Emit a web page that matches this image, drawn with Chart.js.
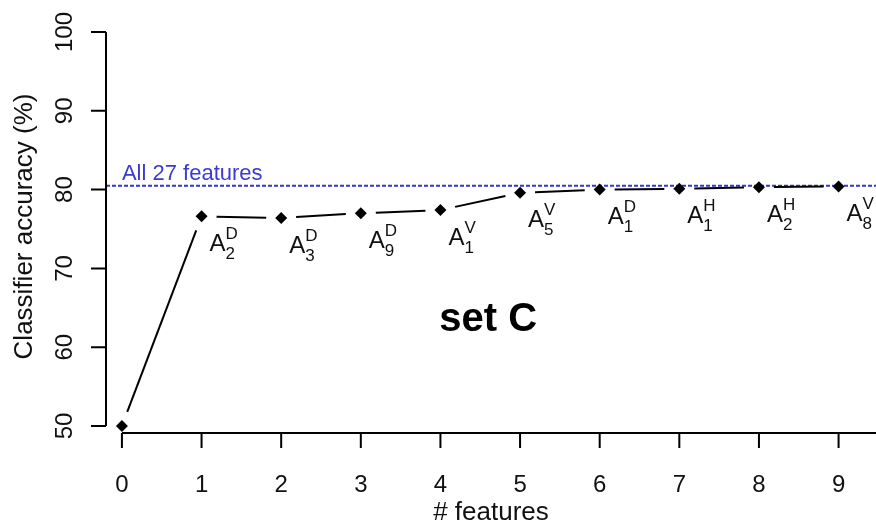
<!DOCTYPE html>
<html>
<head>
<meta charset="utf-8">
<script src="https://cdn.jsdelivr.net/npm/chart.js@4"></script>
<style>
  html, body { margin: 0; padding: 0; background: #fff; }
  #c { display: block; }
</style>
</head>
<body>
<canvas id="c" width="876" height="523"></canvas>
<script>
// ---- data ----
const numFeatures = [0, 1, 2, 3, 4, 5, 6, 7, 8, 9];
const accuracy = [50.0, 76.6, 76.4, 77.0, 77.4, 79.6, 80.0, 80.1, 80.3, 80.4];
const labelBase = ['', 'A', 'A', 'A', 'A', 'A', 'A', 'A', 'A', 'A'];
const labelSup = ['', 'D', 'D', 'D', 'V', 'V', 'D', 'H', 'H', 'V'];
const labelSub = ['', '2', '3', '9', '1', '5', '1', '1', '2', '8'];
const allFeaturesAccuracy = 80.5;
const allFeaturesLabel = 'All 27 features';
const setLabel = 'set C';
const xTicks = [0, 1, 2, 3, 4, 5, 6, 7, 8, 9];
const yTicks = [50, 60, 70, 80, 90, 100];

const FONT = '"Liberation Sans", Arial, Helvetica, sans-serif';

const rPlot = {
  id: 'rPlot',
  beforeDatasetsDraw(chart) {
    const ctx = chart.ctx, xs = chart.scales.x, ys = chart.scales.y, a = chart.chartArea;
    // reference dashed line
    const yr = ys.getPixelForValue(allFeaturesAccuracy);
    ctx.save();
    ctx.strokeStyle = '#3636cc';
    ctx.lineWidth = 2;
    ctx.setLineDash([4, 2]);
    ctx.beginPath();
    ctx.moveTo(a.left, yr);
    ctx.lineTo(a.right, yr);
    ctx.stroke();
    ctx.setLineDash([]);
    ctx.fillStyle = '#3b3bd1';
    ctx.font = '22px ' + FONT;
    ctx.textAlign = 'left';
    ctx.textBaseline = 'alphabetic';
    ctx.fillText(allFeaturesLabel, xs.getPixelForValue(0), yr - 6);
    // line segments with gaps (type "b")
    const gap = 15;
    ctx.strokeStyle = '#000';
    ctx.lineWidth = 2;
    for (let i = 0; i < numFeatures.length - 1; i++) {
      const x1 = xs.getPixelForValue(numFeatures[i]), y1 = ys.getPixelForValue(accuracy[i]);
      const x2 = xs.getPixelForValue(numFeatures[i + 1]), y2 = ys.getPixelForValue(accuracy[i + 1]);
      const dx = x2 - x1, dy = y2 - y1, len = Math.hypot(dx, dy);
      if (len <= 2 * gap) continue;
      const ux = dx / len, uy = dy / len;
      ctx.beginPath();
      ctx.moveTo(x1 + ux * gap, y1 + uy * gap);
      ctx.lineTo(x2 - ux * gap, y2 - uy * gap);
      ctx.stroke();
    }
    ctx.restore();
  },
  afterDatasetsDraw(chart) {
    const ctx = chart.ctx, xs = chart.scales.x, ys = chart.scales.y;
    ctx.save();
    ctx.fillStyle = '#111';
    ctx.textAlign = 'left';
    ctx.textBaseline = 'alphabetic';
    for (let i = 0; i < numFeatures.length; i++) {
      if (!labelBase[i]) continue;
      const px = xs.getPixelForValue(numFeatures[i]) + 8;
      const py = ys.getPixelForValue(accuracy[i] - 4.4);
      ctx.font = '24px ' + FONT;
      ctx.fillText(labelBase[i], px, py);
      const w = ctx.measureText(labelBase[i]).width;
      ctx.font = '17px ' + FONT;
      ctx.fillText(labelSup[i], px + w, py - 12);
      ctx.fillText(labelSub[i], px + w, py + 8);
    }
    // set label
    ctx.fillStyle = '#000';
    ctx.font = 'bold 40px ' + FONT;
    ctx.textAlign = 'center';
    ctx.textBaseline = 'middle';
    ctx.fillText(setLabel, xs.getPixelForValue(4.6), ys.getPixelForValue(63.4));
    ctx.restore();
  },
  afterDraw(chart) {
    const ctx = chart.ctx, xs = chart.scales.x, ys = chart.scales.y, a = chart.chartArea;
    ctx.save();
    ctx.strokeStyle = '#000';
    ctx.lineWidth = 2;
    // y axis
    const yTop = ys.getPixelForValue(yTicks[yTicks.length - 1]);
    const yBot = ys.getPixelForValue(yTicks[0]);
    ctx.beginPath();
    ctx.moveTo(a.left, yTop);
    ctx.lineTo(a.left, yBot);
    yTicks.forEach(v => {
      const p = ys.getPixelForValue(v);
      ctx.moveTo(a.left, p);
      ctx.lineTo(a.left - 15, p);
    });
    // x axis
    ctx.moveTo(xs.getPixelForValue(xTicks[0]), a.bottom);
    ctx.lineTo(a.right, a.bottom);
    xTicks.forEach(v => {
      const p = xs.getPixelForValue(v);
      ctx.moveTo(p, a.bottom);
      ctx.lineTo(p, a.bottom + 15);
    });
    ctx.stroke();
    ctx.restore();
  }
};

new Chart(document.getElementById('c'), {
  type: 'scatter',
  data: {
    datasets: [{
      label: 'accuracy',
      data: numFeatures.map((x, i) => ({ x: x, y: accuracy[i] })),
      pointStyle: 'rectRot',
      pointRadius: 6,
      pointBorderWidth: 0,
      backgroundColor: '#000',
      borderColor: '#000',
      showLine: false
    }]
  },
  options: {
    responsive: false,
    animation: false,
    events: [],
    layout: { autoPadding: false, padding: { top: 20, left: 0, right: 0, bottom: 0 } },
    plugins: { legend: { display: false }, tooltip: { enabled: false } },
    scales: {
      x: {
        type: 'linear',
        min: -0.2,
        max: 9.47,
        afterBuildTicks: s => { s.ticks = xTicks.map(v => ({ value: v })); },
        afterFit: s => { s.height = 90; s.paddingLeft = 0; s.paddingRight = 0; },
        grid: { display: false, drawTicks: false },
        border: { display: false },
        ticks: {
          color: '#111',
          font: { family: FONT, size: 24 },
          padding: 38,
          maxRotation: 0,
          minRotation: 0,
          autoSkip: false
        },
        title: {
          display: true,
          text: '# features',
          color: '#111',
          font: { family: FONT, size: 26, lineHeight: 0.8 },
          padding: { top: 0, bottom: 0 }
        }
      },
      y: {
        type: 'linear',
        min: 49.11,
        max: 101.52,
        afterBuildTicks: s => { s.ticks = yTicks.map(v => ({ value: v })); },
        afterFit: s => { s.width = 106; s.paddingTop = 0; s.paddingBottom = 0; },
        grid: { display: false, drawTicks: false },
        border: { display: false },
        ticks: {
          color: '#111',
          font: { family: FONT, size: 24 },
          padding: 21,
          minRotation: 90,
          maxRotation: 90,
          crossAlign: 'center',
          autoSkip: false
        },
        title: {
          display: true,
          text: 'Classifier accuracy (%)',
          color: '#111',
          font: { family: FONT, size: 26, lineHeight: 1 },
          padding: { top: 12, bottom: 0 }
        }
      }
    }
  },
  plugins: [rPlot]
});
</script>
</body>
</html>
